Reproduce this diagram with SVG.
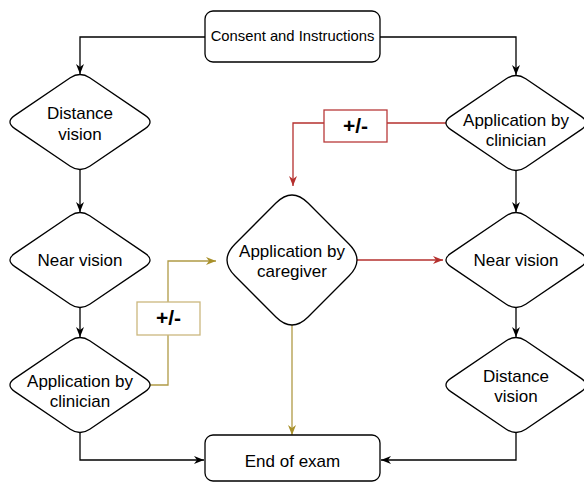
<svg xmlns="http://www.w3.org/2000/svg" width="584" height="483" viewBox="0 0 584 483">
<style>
.box{fill:#fff;stroke:#000;stroke-width:1.3}
.dia{fill:#fff;stroke:#000;stroke-width:1.3}
.t{font-family:"Liberation Sans",Arial,sans-serif;font-size:17px;fill:#000;text-anchor:middle}
.ts{font-family:"Liberation Sans",Arial,sans-serif;font-size:14.8px;fill:#000;text-anchor:middle}
.pm{font-family:"Liberation Sans",Arial,sans-serif;font-size:21px;font-weight:bold;fill:#000;text-anchor:middle}
.k{fill:none;stroke:#000;stroke-width:1.3}
.r{fill:none;stroke:#b5302e;stroke-width:1.3}
.g{fill:none;stroke:#b09a45;stroke-width:1.3}
</style>
<defs>
<marker id="ak" viewBox="0 0 10 10" refX="10" refY="5" markerWidth="10" markerHeight="10" markerUnits="userSpaceOnUse" orient="auto"><path d="M0,1 L10,5 L0,9 L3,5 Z" fill="#000"/></marker>
<marker id="ar" viewBox="0 0 10 10" refX="10" refY="5" markerWidth="10" markerHeight="10" markerUnits="userSpaceOnUse" orient="auto"><path d="M0,1 L10,5 L0,9 L3,5 Z" fill="#b5302e"/></marker>
<marker id="ag" viewBox="0 0 10 10" refX="10" refY="5" markerWidth="10" markerHeight="10" markerUnits="userSpaceOnUse" orient="auto"><path d="M0,1 L10,5 L0,9 L3,5 Z" fill="#a8902a"/></marker>
<path id="d1" d="M9.74,-44.2 L65.16,-6.6 Q74.9,0 65.16,6.6 L9.74,44.2 Q0,50.8 -9.74,44.2 L-65.16,6.6 Q-74.9,0 -65.16,-6.6 L-9.74,-44.2 Q0,-50.8 9.74,-44.2Z"/>
<path id="d2" d="M16.06,-56.94 L56.94,-16.06 Q73,0 56.94,16.06 L16.06,56.94 Q0,73 -16.06,56.94 L-56.94,16.06 Q-73,0 -56.94,-16.06 L-16.06,-56.94 Q0,-73 16.06,-56.94Z"/>
</defs>
<g id="connectors">
<path class="k" d="M205,37 H80 V74" marker-end="url(#ak)"/>
<path class="k" d="M380,37 H516 V75" marker-end="url(#ak)"/>
<path class="k" d="M80,170 V212" marker-end="url(#ak)"/>
<path class="k" d="M80,308 V337" marker-end="url(#ak)"/>
<path class="k" d="M80,432 V460 H204" marker-end="url(#ak)"/>
<path class="k" d="M516,170 V212" marker-end="url(#ak)"/>
<path class="k" d="M516,308 V337" marker-end="url(#ak)"/>
<path class="k" d="M516,432 V460 H381" marker-end="url(#ak)"/>
<path class="r" d="M446,123 H293 V186" marker-end="url(#ar)"/>
<path class="r" d="M357,260 H443" marker-end="url(#ar)"/>
<path class="g" d="M150,385 H168 V261 H216" marker-end="url(#ag)"/>
<path class="g" d="M292,325 V435" marker-end="url(#ag)"/>
</g>
<g id="pm-red">
<rect x="324" y="110" width="63" height="32" fill="#fff" stroke="#b83a3a" stroke-width="1.3"/>
<text class="pm" x="355.5" y="133">+/-</text>
</g>
<g id="pm-gold">
<rect x="137" y="302" width="63" height="33" fill="#fff" stroke="#cbb77e" stroke-width="1.3"/>
<text class="pm" x="168.5" y="325">+/-</text>
</g>
<g id="consent">
<rect class="box" x="205" y="11" width="175" height="51" rx="8"/>
<text class="ts" x="292.5" y="41">Consent and Instructions</text>
</g>
<g id="end">
<rect class="box" x="205" y="435" width="175" height="46" rx="8"/>
<text class="t" x="292.5" y="466.5">End of exam</text>
</g>
<g id="l-distance">
<use href="#d1" class="dia" x="80" y="122"/>
<text class="t" x="80" y="119">Distance</text>
<text class="t" x="80" y="140">vision</text>
</g>
<g id="l-near">
<use href="#d1" class="dia" x="80" y="260"/>
<text class="t" x="80" y="266">Near vision</text>
</g>
<g id="l-clinician">
<use href="#d1" class="dia" x="80" y="385"/>
<text class="t" x="80" y="387">Application by</text>
<text class="t" x="80" y="407">clinician</text>
</g>
<g id="caregiver">
<use href="#d2" class="dia" x="292" y="260"/>
<text class="t" x="292" y="257">Application by</text>
<text class="t" x="292" y="277">caregiver</text>
</g>
<g id="r-clinician">
<use href="#d1" class="dia" x="516" y="123"/>
<text class="t" x="516" y="126">Application by</text>
<text class="t" x="516" y="146">clinician</text>
</g>
<g id="r-near">
<use href="#d1" class="dia" x="516" y="260"/>
<text class="t" x="516" y="266">Near vision</text>
</g>
<g id="r-distance">
<use href="#d1" class="dia" x="516" y="385"/>
<text class="t" x="516" y="382">Distance</text>
<text class="t" x="516" y="402">vision</text>
</g>
</svg>
